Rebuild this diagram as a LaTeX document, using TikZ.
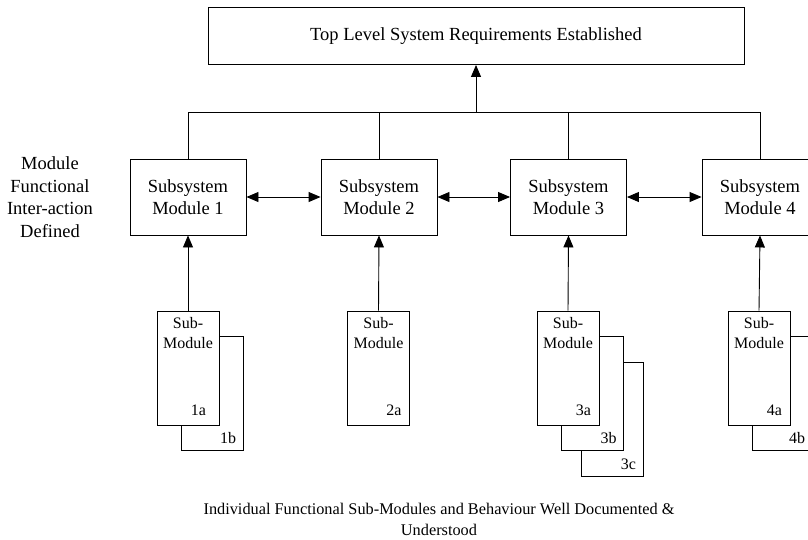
\documentclass[tikz,border=0pt]{standalone}
\usepackage{fontspec}
\setmainfont{Liberation Serif}
\usetikzlibrary{arrows.meta,calc}
\begin{document}
\begin{tikzpicture}[x=1pt,y=-1pt,
  line width=0.9pt,
  big/.style={font=\fontsize{18.5}{22.5}\selectfont},
  capfont/.style={font=\fontsize{16.3}{21}\selectfont},
  small/.style={font=\fontsize{16}{20}\selectfont},
  topbox/.style={draw,big,minimum width=536,minimum height=57,inner sep=0},
  modbox/.style={draw,big,align=center,minimum width=116,minimum height=76,inner sep=0},
  subbox/.style={draw,fill=white,minimum width=62,minimum height=114,inner sep=0},
  subtxt/.style={small,align=center,anchor=north,inner sep=6},
  numtxt/.style={small,anchor=south east,inner sep=0},
  arr/.style={-{Triangle[length=12pt,width=10pt]}},
  darr/.style={{Triangle[length=12pt,width=10pt]}-{Triangle[length=12pt,width=10pt]}}
]
\useasboundingbox (0,0) rectangle (808,539);
\clip (0,0) rectangle (808,539);

% top
\node[topbox] (top) at (476,36) {Top Level System Requirements Established};

% modules
\node[modbox] (m1) at (188,197) {Subsystem\\Module 1};
\node[modbox] (m2) at (379,197) {Subsystem\\Module 2};
\node[modbox] (m3) at (568.5,197) {Subsystem\\Module 3};
\node[modbox] (m4) at (760,197) {Subsystem\\Module 4};

% bus
\coordinate (bus) at (476,112);
\draw (m1.north) -- (m1.north |- bus) -- (m4.north |- bus) -- (m4.north);
\draw (m2.north) -- (m2.north |- bus);
\draw (m3.north) -- (m3.north |- bus);
\draw[arr] (bus) -- (top.south);

% horizontal interactions
\draw[darr] (m1.east) -- (m2.west);
\draw[darr] (m2.east) -- (m3.west);
\draw[darr] (m3.east) -- (m4.west);

% side label
\node[big,align=center] (lbl) at (50,197) {Module\\Functional\\Inter-action\\Defined};

% sub-modules 1
\node[subbox] (s1b) at (212,393) {};
\node[numtxt] (t1b) at ($(s1b.south east)+(-7,-6)$) {1b};
\node[subbox] (s1a) at (188,368) {};
\node[subtxt] (h1a) at (s1a.north) {Sub-\\Module};
\node[numtxt] (t1a) at ($(s1a.south east)+(-13,-9)$) {1a};

% sub-module 2
\node[subbox] (s2a) at (378.5,368) {};
\node[subtxt] (h2a) at (s2a.north) {Sub-\\Module};
\node[numtxt] (t2a) at ($(s2a.south east)+(-8,-9)$) {2a};

% sub-modules 3
\node[subbox] (s3c) at (612,419) {};
\node[numtxt] (t3c) at ($(s3c.south east)+(-7,-6)$) {3c};
\node[subbox] (s3b) at (592.5,393) {};
\node[numtxt] (t3b) at ($(s3b.south east)+(-7,-6)$) {3b};
\node[subbox] (s3a) at (568,368) {};
\node[subtxt] (h3a) at (s3a.north) {Sub-\\Module};
\node[numtxt] (t3a) at ($(s3a.south east)+(-8,-9)$) {3a};

% sub-modules 4
\node[subbox] (s4b) at (783,393) {};
\node[numtxt] (t4b) at ($(s4b.south east)+(-9,-6)$) {4b};
\node[subbox] (s4a) at (759,368) {};
\node[subtxt] (h4a) at (s4a.north) {Sub-\\Module};
\node[numtxt] (t4a) at ($(s4a.south east)+(-8,-9)$) {4a};

% up arrows
\draw[arr] (s1a.north) -- (m1.south);
\draw[arr] (s2a.north) -- (m2.south);
\draw[arr] (s3a.north) -- (m3.south);
\draw[arr] (s4a.north) -- (m4.south);

% bottom caption
\node[capfont,align=center] (cap) at (439,519) {Individual Functional Sub-Modules and Behaviour Well Documented \&\\Understood};
\end{tikzpicture}
\end{document}
